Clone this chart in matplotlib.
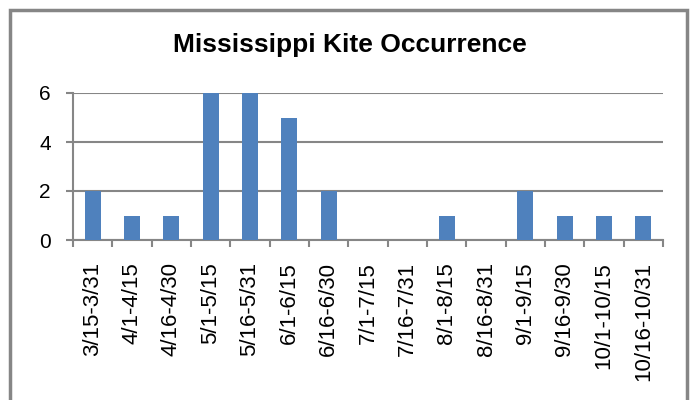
import matplotlib.pyplot as plt
import numpy as np
from matplotlib.patches import Rectangle

plt.rcParams['font.family'] = ['Liberation Sans', 'DejaVu Sans']

# Данные
periods = ['3/15-3/31', '4/1-4/15', '4/16-4/30', '5/1-5/15', '5/16-5/31', '6/1-6/15', '6/16-6/30',
           '7/1-7/15', '7/16-7/31', '8/1-8/15', '8/16-8/31', '9/1-9/15', '9/16-9/30', '10/1-10/15',
           '10/16-10/31']
counts = [2, 1, 1, 6, 6, 5, 2, 0, 0, 1, 0, 2, 1, 1, 1]
y_ticks = [0, 2, 4, 6]

grey = '#868686'
fig = plt.figure(figsize=(6.96, 4), dpi=100)
ax = fig.add_axes([73 / 696, 1 - 240 / 400, 590 / 696, 147 / 400])

x = np.arange(len(counts))
ax.bar(x, counts, width=0.41, color='#4F81BD', zorder=3)

ax.set_xlim(-0.5, len(counts) - 0.5)
ax.set_ylim(0, 6)
ax.set_yticks(y_ticks)
ax.tick_params(axis='y', length=5, color=grey, width=1.5, labelsize=15, pad=11)
ax.grid(axis='y', color=grey, linewidth=1.5, zorder=0)

ax.set_xticks(x)
ax.set_xticklabels(periods, rotation=90, fontsize=16, va='top')
ax.tick_params(axis='x', which='major', length=0, pad=16)
ax.set_xticks(np.arange(-0.5, len(counts)), minor=True)
ax.tick_params(axis='x', which='minor', length=5, color=grey, width=1.5)

for side in ['top', 'right']:
    ax.spines[side].set_visible(False)
for side in ['left', 'bottom']:
    ax.spines[side].set_color(grey)
    ax.spines[side].set_linewidth(1.5)

fig.text(350 / 696, 1 - 45 / 400, 'Mississippi Kite Occurrence', ha='center', va='center',
         fontsize=19, fontweight='bold')

# Рамка вокруг диаграммы
fig.patches.append(Rectangle((10 / 696, -0.1), 677 / 696, 1.1 - 10 / 400, transform=fig.transFigure,
                             fill=False, edgecolor=grey, linewidth=2.5, clip_on=False))

plt.savefig('out.png')
